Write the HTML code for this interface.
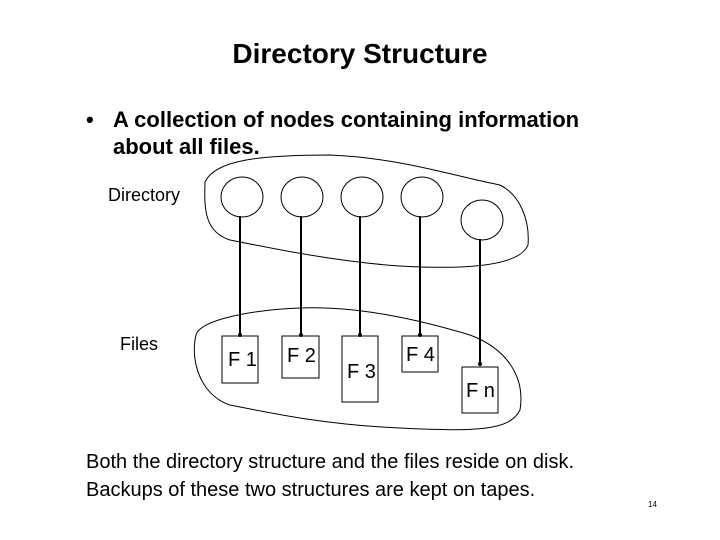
<!DOCTYPE html>
<html><head><meta charset="utf-8"><style>
body{margin:0;width:720px;height:540px;background:#fff;overflow:hidden}
svg{display:block}
text{font-family:"Liberation Sans",Arial,sans-serif;fill:#000}
</style></head><body>
<svg width="720" height="540" viewBox="0 0 720 540">
<text x="360" y="63" font-size="28" font-weight="bold" text-anchor="middle">Directory Structure</text>
<text x="86" y="127" font-size="22" font-weight="bold">•</text>
<text x="113" y="127" font-size="22" font-weight="bold">A collection of nodes containing information</text>
<text x="113" y="154" font-size="22" font-weight="bold">about all files.</text>
<text x="108" y="201" font-size="18">Directory</text>
<text x="120" y="350" font-size="18">Files</text>
<g fill="none" stroke="#000" stroke-width="1">
<path d="M205,182 C215,160 260,155 330,155 C400,158 450,175 500,185 C520,195 530,220 528,245 C520,265 470,270 400,266 C340,262 280,250 230,240 C205,232 204,210 205,182 Z"/>
<path d="M196,335 C200,320 250,310 300,308 C360,306 420,320 470,335 C510,350 525,380 520,410 C510,430 480,432 400,428 C330,425 280,415 230,405 C200,395 190,360 196,335 Z"/>
<ellipse cx="242" cy="197" rx="21" ry="20" fill="#fff"/>
<ellipse cx="302" cy="197" rx="21" ry="20" fill="#fff"/>
<ellipse cx="362" cy="197" rx="21" ry="20" fill="#fff"/>
<ellipse cx="422" cy="197" rx="21" ry="20" fill="#fff"/>
<ellipse cx="482" cy="220" rx="21" ry="20" fill="#fff"/>
<rect x="222" y="336" width="36" height="47" fill="#fff"/>
<rect x="282" y="336" width="37" height="42" fill="#fff"/>
<rect x="342" y="336" width="36" height="66" fill="#fff"/>
<rect x="402" y="336" width="36" height="36" fill="#fff"/>
<rect x="462" y="367" width="36" height="46" fill="#fff"/>
</g>
<g stroke="#000" stroke-width="2">
<line x1="240" y1="216" x2="240" y2="335"/>
<line x1="301" y1="216" x2="301" y2="335"/>
<line x1="360" y1="216" x2="360" y2="335"/>
<line x1="420" y1="216" x2="420" y2="335"/>
<line x1="480" y1="239" x2="480" y2="366"/>
</g>
<g fill="#000">
<circle cx="240" cy="335" r="2"/><circle cx="301" cy="335" r="2"/><circle cx="360" cy="335" r="2"/><circle cx="420" cy="335" r="2"/><circle cx="480" cy="364" r="2"/>
</g>
<g font-size="20">
<text x="228" y="366">F 1</text>
<text x="287" y="362">F 2</text>
<text x="347" y="378">F 3</text>
<text x="406" y="361">F 4</text>
<text x="466" y="397">F n</text>
</g>
<text x="86" y="468" font-size="20">Both the directory structure and the files reside on disk.</text>
<text x="86" y="496" font-size="20">Backups of these two structures are kept on tapes.</text>
<text x="648" y="507" font-size="8">14</text>
</svg>
</body></html>
